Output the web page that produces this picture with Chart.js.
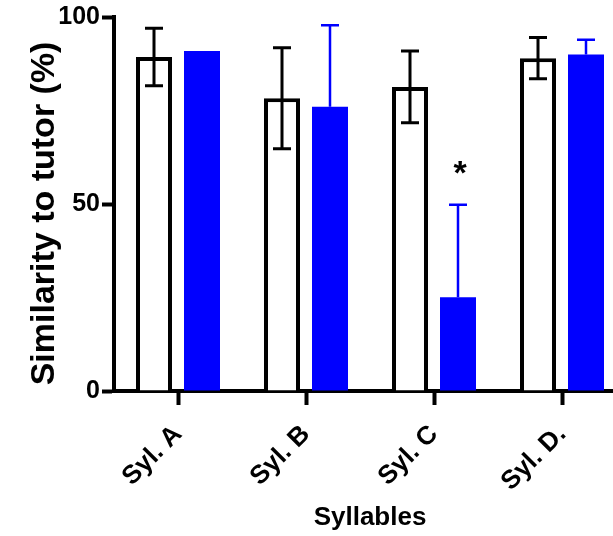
<!DOCTYPE html>
<html><head><meta charset="utf-8">
<script src="https://cdn.jsdelivr.net/npm/chart.js@4"></script>
<style>
html,body{margin:0;padding:0;background:#fff;overflow:hidden;width:613px;height:536px}
#wrap{position:absolute;left:0;top:0;width:640px;height:536px}
</style></head><body><div id="wrap"><canvas id="c" width="640" height="536"></canvas></div>
<script>
const categories = ['Syl. A', 'Syl. B', 'Syl. C', 'Syl. D.'];
const tutorMeans = [89.3, 78.3, 81.3, 89.0];
const tutorSD = [7.7, 13.5, 9.6, 5.5];
const pupilMeans = [90.9, 76.0, 25.1, 90.0];
const pupilSD = [0, 21.8, 24.7, 3.9];
const yTicks = [0, 50, 100];
const significance = ['', '', '*', ''];

const FONT = "'Liberation Sans', Arial, Helvetica, sans-serif";
const BLUE = '#0000ff';

const errorBars = {
  id: 'errorBars',
  afterDatasetsDraw(chart) {
    const ctx = chart.ctx;
    const y = chart.scales.y;
    const sets = [
      {means: tutorMeans, sd: tutorSD, color: '#000', lw: 3, both: true},
      {means: pupilMeans, sd: pupilSD, color: BLUE, lw: 2.5, both: false}
    ];
    ctx.save();
    sets.forEach((s, di) => {
      const meta = chart.getDatasetMeta(di);
      meta.data.forEach((bar, i) => {
        const sd = s.sd[i];
        if (!sd) return;
        const x = bar.x;
        const yTop = y.getPixelForValue(s.means[i] + sd);
        const yMean = y.getPixelForValue(s.means[i]);
        const yBot = s.both ? y.getPixelForValue(s.means[i] - sd) : yMean;
        const cap = 9;
        ctx.strokeStyle = s.color;
        ctx.lineWidth = s.lw;
        ctx.beginPath();
        ctx.moveTo(x, yTop); ctx.lineTo(x, yBot);
        ctx.moveTo(x - cap, yTop); ctx.lineTo(x + cap, yTop);
        if (s.both) { ctx.moveTo(x - cap, yBot); ctx.lineTo(x + cap, yBot); }
        ctx.stroke();
      });
    });
    const meta = chart.getDatasetMeta(1);
    ctx.fillStyle = '#000';
    ctx.font = 'bold 34px ' + FONT;
    ctx.textAlign = 'center';
    ctx.textBaseline = 'middle';
    meta.data.forEach((bar, i) => {
      if (!significance[i]) return;
      const yTop = y.getPixelForValue(pupilMeans[i] + pupilSD[i]);
      ctx.fillText(significance[i], bar.x + 2, yTop - 30);
    });
    ctx.restore();
  }
};

new Chart(document.getElementById('c'), {
  type: 'bar',
  data: {
    labels: categories,
    datasets: [
      {label: 'Tutor', data: tutorMeans, backgroundColor: '#ffffff', borderColor: '#000', borderWidth: 4,
       borderSkipped: 'bottom', categoryPercentage: 0.75, barPercentage: 0.75},
      {label: 'Pupil', data: pupilMeans, backgroundColor: BLUE, borderColor: BLUE, borderWidth: 0,
       categoryPercentage: 0.75, barPercentage: 0.75}
    ]
  },
  options: {
    responsive: false,
    animation: false,
    devicePixelRatio: 1,
    layout: {padding: {left: 24, right: 14, top: 16, bottom: 0}},
    plugins: {legend: {display: false}, tooltip: {enabled: false}},
    scales: {
      x: {
        offset: true,
        grid: {display: true, drawOnChartArea: false, drawTicks: true, offset: false, tickLength: 14, tickWidth: 4, color: '#000'},
        border: {display: true, color: '#000', width: 4},
        ticks: {color: '#000', font: {family: FONT, weight: 'bold', size: 26}, minRotation: 45, maxRotation: 45, padding: 14},
        title: {display: true, text: 'Syllables', color: '#000', font: {family: FONT, weight: 'bold', size: 26}, padding: {top: 0, bottom: 3}},
        afterFit(s) { s.height = 536 - 391; }
      },
      y: {
        min: 0, max: 100,
        afterBuildTicks(s) { s.ticks = yTicks.map(v => ({value: v})); },
        grid: {display: true, drawOnChartArea: false, drawTicks: true, tickLength: 12, tickWidth: 4, color: '#000'},
        border: {display: true, color: '#000', width: 4},
        ticks: {color: '#000', font: {family: FONT, weight: 'bold', size: 25}, padding: 2},
        title: {display: true, text: 'Similarity to tutor (%)  ', color: '#000', font: {family: FONT, weight: 'bold', size: 34}, padding: 0},
        afterFit(s) { s.width = 114 - 24; }
      }
    }
  },
  plugins: [errorBars]
});
</script></body></html>
